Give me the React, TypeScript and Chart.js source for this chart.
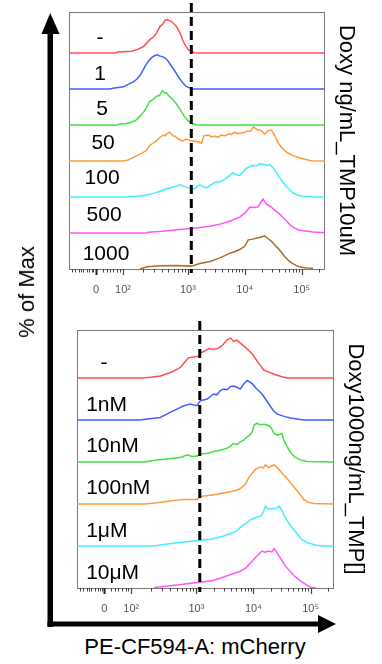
import React, { useEffect, useRef } from 'react';
import { Chart, registerables } from 'chart.js';

Chart.register(...registerables);

const FONT = '"Liberation Sans", Arial, Helvetica, sans-serif';

// ---- x axis: display units of the biexponential mCherry axis (10^3 -> 3, 10^4 -> 4, 10^5 -> 5) ----
const X_MIN = 0.91;
const X_MAX = 5.41;
const TICK_VALUES = [1.386, 1.86, 3, 4, 5];
const TICK_LABELS = ['0', '10²', '10³', '10⁴', '10⁵'];
const LINEAR_MINOR_TICKS = [0.96, 1.02, 1.08, 1.12, 1.16, 1.22, 1.27, 1.31, 1.34, 1.51, 1.57, 1.63, 1.69, 1.76, 1.8];
const GATE = 3.06;

const X_TITLE = 'PE-CF594-A: mCherry';
const Y_TITLE = '% of Max';

// ---- top panel: Doxy (ng/mL), TMP 10 uM.  Each series: [x (display units), % of max / 100] ----
const TOP_TITLE = 'Doxy ng/mL_TMP10uM';
const TOP_CATEGORIES = ['-', '1', '5', '50', '100', '500', '1000'];

const TOP_NONE = [[0.91,0],[1.74,0],[1.76,0.03],[2.01,0.05],[2.12,0.1],[2.22,0.18],[2.33,0.37],[2.4,0.45],[2.45,0.56],[2.51,0.74],[2.56,0.8],[2.6,0.91],[2.64,0.93],[2.67,0.9],[2.71,0.88],[2.76,0.8],[2.8,0.74],[2.86,0.56],[2.92,0.32],[2.97,0.17],[3.01,0.09],[3.06,0.04],[3.12,0.01],[3.2,0],[5.41,0]];
const TOP_1 = [[0.91,0],[1.63,0],[1.68,0.02],[1.87,0.06],[1.95,0.13],[2.04,0.2],[2.1,0.27],[2.16,0.38],[2.21,0.52],[2.25,0.64],[2.3,0.76],[2.36,0.87],[2.42,0.93],[2.46,0.95],[2.5,0.92],[2.55,0.9],[2.6,0.86],[2.64,0.8],[2.7,0.66],[2.77,0.5],[2.84,0.32],[2.91,0.17],[2.97,0.07],[3.06,0.01],[3.08,0],[5.41,0]];
const TOP_5 = [[0.91,0],[1.75,0],[1.8,0.02],[1.92,0.04],[2.03,0.09],[2.1,0.15],[2.16,0.25],[2.22,0.35],[2.27,0.48],[2.33,0.66],[2.38,0.7],[2.45,0.8],[2.5,0.82],[2.53,0.9],[2.56,0.95],[2.59,0.88],[2.62,0.9],[2.66,0.82],[2.74,0.7],[2.8,0.58],[2.86,0.44],[2.93,0.26],[3.0,0.12],[3.06,0.04],[3.15,0.01],[3.25,0],[5.41,0]];
const TOP_50 = [[0.91,0],[1.87,0],[1.95,0.03],[2.04,0.1],[2.16,0.19],[2.27,0.29],[2.33,0.43],[2.39,0.5],[2.45,0.56],[2.51,0.66],[2.57,0.72],[2.6,0.7],[2.63,0.76],[2.68,0.8],[2.74,0.7],[2.78,0.68],[2.83,0.61],[2.91,0.56],[2.98,0.61],[3.06,0.56],[3.15,0.54],[3.24,0.5],[3.28,0.7],[3.36,0.72],[3.42,0.67],[3.47,0.69],[3.53,0.66],[3.59,0.72],[3.65,0.7],[3.71,0.75],[3.77,0.74],[3.82,0.8],[3.88,0.76],[3.94,0.78],[4.0,0.8],[4.06,0.84],[4.1,0.82],[4.15,0.95],[4.22,0.87],[4.29,0.84],[4.35,0.75],[4.41,0.84],[4.47,0.86],[4.53,0.7],[4.58,0.52],[4.66,0.35],[4.74,0.24],[4.85,0.15],[5.0,0.07],[5.17,0.01],[5.41,0]];
const TOP_100 = [[0.91,0],[1.92,0],[2.1,0.02],[2.25,0.05],[2.4,0.1],[2.51,0.16],[2.61,0.22],[2.68,0.25],[2.74,0.28],[2.8,0.3],[2.86,0.34],[2.93,0.3],[3.0,0.26],[3.06,0.24],[3.12,0.23],[3.17,0.3],[3.21,0.34],[3.27,0.29],[3.33,0.25],[3.42,0.35],[3.5,0.43],[3.55,0.41],[3.6,0.45],[3.68,0.53],[3.72,0.58],[3.79,0.67],[3.85,0.62],[3.91,0.6],[3.97,0.7],[4.03,0.8],[4.09,0.84],[4.14,0.88],[4.2,0.86],[4.26,0.92],[4.31,0.9],[4.35,0.9],[4.4,0.87],[4.44,0.9],[4.5,0.8],[4.56,0.67],[4.65,0.45],[4.73,0.29],[4.84,0.12],[4.93,0.05],[5.02,0.02],[5.23,0],[5.41,0]];
const TOP_500 = [[0.91,0],[2.28,0],[2.3,0.02],[2.55,0.05],[2.8,0.09],[3.09,0.13],[3.25,0.16],[3.39,0.19],[3.55,0.24],[3.68,0.3],[3.8,0.37],[3.91,0.44],[4.0,0.55],[4.09,0.72],[4.16,0.71],[4.23,0.72],[4.28,0.85],[4.32,0.94],[4.38,0.8],[4.44,0.75],[4.5,0.67],[4.55,0.6],[4.61,0.53],[4.67,0.43],[4.73,0.34],[4.8,0.22],[4.85,0.16],[4.93,0.09],[5.02,0.06],[5.2,0.03],[5.41,0.01]];
const TOP_1000 = [[2.16,0],[2.28,0.06],[2.51,0.09],[2.8,0.1],[3.06,0.08],[3.21,0.15],[3.39,0.21],[3.56,0.31],[3.65,0.37],[3.74,0.44],[3.82,0.48],[3.91,0.54],[4.0,0.63],[4.06,0.81],[4.14,0.83],[4.21,0.86],[4.28,0.88],[4.35,0.92],[4.41,0.84],[4.47,0.77],[4.52,0.68],[4.58,0.58],[4.64,0.47],[4.7,0.35],[4.76,0.25],[4.82,0.17],[4.9,0.1],[4.96,0.06],[5.08,0.03],[5.2,0.02]];

// ---- bottom panel: Doxy 1000 ng/mL, TMP concentration ----
const BOTTOM_TITLE = 'Doxy1000ng/mL_TMP[]';
const BOTTOM_CATEGORIES = ['-', '1nM', '10nM', '100nM', '1μM', '10μM'];

const BOT_NONE = [[0.91,0],[2.05,0],[2.2,0.02],[2.37,0.05],[2.54,0.13],[2.65,0.2],[2.72,0.25],[2.8,0.38],[2.86,0.48],[2.95,0.5],[3.04,0.52],[3.07,0.6],[3.13,0.63],[3.22,0.7],[3.3,0.68],[3.39,0.71],[3.45,0.77],[3.54,0.91],[3.6,0.95],[3.65,0.87],[3.71,0.9],[3.77,0.83],[3.86,0.73],[3.92,0.65],[3.98,0.57],[4.06,0.41],[4.12,0.3],[4.18,0.19],[4.27,0.14],[4.36,0.09],[4.5,0.03],[4.59,0],[5.41,0]];
const BOT_1NM = [[0.91,0],[2.0,0],[2.11,0.02],[2.37,0.06],[2.54,0.18],[2.66,0.26],[2.78,0.34],[2.89,0.38],[3.01,0.34],[3.07,0.46],[3.19,0.5],[3.3,0.62],[3.36,0.6],[3.42,0.7],[3.48,0.74],[3.54,0.72],[3.6,0.8],[3.65,0.81],[3.71,0.78],[3.77,0.74],[3.83,0.86],[3.89,0.94],[3.94,0.9],[3.98,0.86],[4.06,0.74],[4.15,0.62],[4.21,0.5],[4.27,0.38],[4.35,0.22],[4.42,0.14],[4.55,0.08],[4.65,0.05],[4.82,0.01],[4.9,0],[5.41,0]];
const BOT_10NM = [[0.91,0],[2.08,0],[2.31,0.05],[2.6,0.09],[2.75,0.12],[2.84,0.17],[2.92,0.13],[3.01,0.14],[3.07,0.19],[3.18,0.2],[3.3,0.25],[3.42,0.28],[3.54,0.33],[3.6,0.38],[3.65,0.44],[3.71,0.42],[3.77,0.48],[3.83,0.52],[3.89,0.6],[3.95,0.66],[3.98,0.72],[4.01,0.88],[4.06,0.92],[4.12,0.89],[4.18,0.9],[4.24,0.88],[4.3,0.84],[4.36,0.68],[4.42,0.64],[4.5,0.68],[4.53,0.52],[4.62,0.29],[4.71,0.13],[4.82,0.05],[4.94,0.01],[5.41,0]];
const BOT_100NM = [[0.91,0],[2.1,0],[2.31,0.03],[2.54,0.07],[2.78,0.11],[3.01,0.11],[3.07,0.17],[3.13,0.19],[3.25,0.21],[3.36,0.23],[3.5,0.27],[3.65,0.31],[3.75,0.35],[3.83,0.43],[3.88,0.52],[3.92,0.63],[3.98,0.74],[4.04,0.83],[4.12,0.88],[4.17,0.86],[4.21,0.93],[4.27,0.86],[4.31,0.9],[4.36,0.93],[4.42,0.86],[4.5,0.74],[4.58,0.62],[4.65,0.5],[4.77,0.31],[4.88,0.11],[4.96,0.04],[5.06,0.01],[5.41,0]];
const BOT_1UM = [[0.91,0],[2.2,0],[2.31,0.01],[2.66,0.08],[2.95,0.12],[3.25,0.16],[3.48,0.24],[3.65,0.32],[3.72,0.38],[3.8,0.48],[3.88,0.55],[3.95,0.63],[4.04,0.68],[4.12,0.71],[4.17,0.8],[4.21,0.95],[4.27,0.87],[4.33,0.9],[4.39,0.88],[4.45,0.95],[4.5,0.85],[4.54,0.71],[4.65,0.48],[4.77,0.28],[4.85,0.15],[4.94,0.08],[5.1,0.02],[5.23,0],[5.41,0]];
const BOT_10UM = [[2.25,0],[2.31,0.02],[2.66,0.07],[3.01,0.13],[3.3,0.18],[3.54,0.29],[3.77,0.4],[3.87,0.48],[3.95,0.6],[4.06,0.76],[4.15,0.88],[4.2,0.85],[4.27,0.88],[4.32,0.86],[4.36,0.94],[4.41,0.85],[4.45,0.76],[4.56,0.52],[4.71,0.29],[4.82,0.17],[4.92,0.08],[5.0,0.02],[5.1,0]];

const COLORS = ['#ff5050', '#3f60ff', '#40e040', '#ff9a3d', '#3feeff', '#ff55ff', '#ad6c2e'];

// ---- layout (not data) ----
const TOP_LABEL_X = [1.456, 1.456, 1.491, 1.509, 1.491, 1.526, 1.561];
const TOP_LABEL_DY = [0.42, 0.42, 0.44, 0.5, 0.53, 0.5, 0.42];
const BOTTOM_LABEL_X = [1.32, 1.07, 1.07, 1.07, 1.07, 1.07];
const BOTTOM_LABEL_DY = [0.36, 0.36, 0.38, 0.38, 0.36, 0.36];

const MINOR_TICKS: number[] = [...LINEAR_MINOR_TICKS];
for (let k = 2; k <= 9; k++) {
  MINOR_TICKS.push(TICK_VALUES[1] + (3 - TICK_VALUES[1]) * Math.log10(k));
  MINOR_TICKS.push(3 + Math.log10(k));
  MINOR_TICKS.push(4 + Math.log10(k));
  if (5 + Math.log10(k) < X_MAX) MINOR_TICKS.push(5 + Math.log10(k));
}

type Spec = {
  series: number[][][];
  labels: string[];
  labelX: number[];
  labelDy: number[];
  labelAlign: CanvasTextAlign;
  yMax: number;
  title: string;
  titlePad: number;
  padTop: number;
  padLeft: number;
  xHeight: number;
  yWidth: number;
};

const TOP_SPEC: Spec = {
  series: [TOP_NONE, TOP_1, TOP_5, TOP_50, TOP_100, TOP_500, TOP_1000],
  labels: TOP_CATEGORIES,
  labelX: TOP_LABEL_X,
  labelDy: TOP_LABEL_DY,
  labelAlign: 'center',
  yMax: 257 / 36,
  title: TOP_TITLE,
  titlePad: 23,
  padTop: 12,
  padLeft: 69,
  xHeight: 31,
  yWidth: 57,
};

const BOTTOM_SPEC: Spec = {
  series: [BOT_NONE, BOT_1NM, BOT_10NM, BOT_100NM, BOT_1UM, BOT_10UM],
  labels: BOTTOM_CATEGORIES,
  labelX: BOTTOM_LABEL_X,
  labelDy: BOTTOM_LABEL_DY,
  labelAlign: 'left',
  yMax: 258 / 42,
  title: BOTTOM_TITLE,
  titlePad: 14,
  padTop: 20,
  padLeft: 77,
  xHeight: 32,
  yWidth: 48,
};

function panelPlugin(spec: Spec) {
  const n = spec.series.length;
  return {
    id: 'panelDecor',
    beforeDatasetsDraw(chart: any) {
      const { ctx, chartArea: a } = chart;
      ctx.save();
      ctx.strokeStyle = '#7a7a7a';
      ctx.lineWidth = 1;
      ctx.strokeRect(a.left + 0.5, a.top + 0.5, a.right - a.left - 1, a.bottom - a.top);
      ctx.restore();
    },
    afterDatasetsDraw(chart: any) {
      const { ctx, chartArea: a, scales } = chart;
      const xs = scales.x;
      const ys = scales.y;
      ctx.save();
      // tick marks
      ctx.strokeStyle = '#444';
      ctx.lineWidth = 1;
      ctx.beginPath();
      for (const v of MINOR_TICKS) {
        const x = Math.round(xs.getPixelForValue(v)) + 0.5;
        ctx.moveTo(x, a.bottom);
        ctx.lineTo(x, a.bottom + 3.5);
      }
      ctx.stroke();
      TICK_VALUES.forEach((v, i) => {
        const x = Math.round(xs.getPixelForValue(v)) + 0.5;
        ctx.lineWidth = i === 0 ? 2 : 1.2;
        ctx.strokeStyle = i === 0 ? '#222' : '#444';
        ctx.beginPath();
        ctx.moveTo(x, a.bottom);
        ctx.lineTo(x, a.bottom + 6);
        ctx.stroke();
      });
      // gate line
      const gx = xs.getPixelForValue(GATE);
      ctx.strokeStyle = '#000';
      ctx.lineWidth = 3;
      ctx.setLineDash([9, 5]);
      ctx.beginPath();
      ctx.moveTo(gx, a.top - 9);
      ctx.lineTo(gx, a.bottom + 4);
      ctx.stroke();
      ctx.setLineDash([]);
      // category labels
      ctx.fillStyle = '#000';
      ctx.font = `21px ${FONT}`;
      ctx.textAlign = spec.labelAlign;
      ctx.textBaseline = 'middle';
      spec.labels.forEach((lab, i) => {
        const offset = n - 1 - i;
        ctx.fillText(lab, xs.getPixelForValue(spec.labelX[i]), ys.getPixelForValue(offset + spec.labelDy[i]));
      });
      ctx.restore();
    },
  };
}

function makeChart(canvas: HTMLCanvasElement, spec: Spec) {
  const n = spec.series.length;
  return new Chart(canvas, {
    type: 'line',
    data: {
      datasets: spec.series.map((s, i) => ({
        data: s.map(([x, v]) => ({ x, y: n - 1 - i + v })),
        borderColor: COLORS[i],
        borderWidth: 1.5,
        pointRadius: 0,
        fill: false,
        tension: 0,
      })),
    },
    options: {
      animation: false,
      responsive: false,
      events: [],
      layout: { padding: { top: spec.padTop, left: spec.padLeft, right: 0, bottom: 0 } },
      plugins: { legend: { display: false }, tooltip: { enabled: false } },
      scales: {
        x: {
          type: 'linear',
          position: 'bottom',
          min: X_MIN,
          max: X_MAX,
          afterBuildTicks: (axis: any) => {
            axis.ticks = TICK_VALUES.map((value) => ({ value }));
          },
          afterFit: (axis: any) => {
            axis.height = spec.xHeight;
          },
          grid: { display: false, drawTicks: false },
          border: { display: false },
          ticks: {
            autoSkip: false,
            maxRotation: 0,
            padding: 14,
            color: '#555',
            font: { family: FONT, size: 11 },
            callback: (_v: any, i: number) => TICK_LABELS[i],
          },
        },
        y: {
          type: 'linear',
          position: 'right',
          min: 0,
          max: spec.yMax,
          afterFit: (axis: any) => {
            axis.width = spec.yWidth;
          },
          grid: { display: false, drawTicks: false },
          border: { display: false },
          ticks: { display: false },
          title: {
            display: true,
            text: spec.title,
            color: '#000',
            font: { family: FONT, size: 22 },
            padding: { top: spec.titlePad, bottom: 0 },
          },
        },
      },
    } as any,
    plugins: [panelPlugin(spec)],
  });
}

function Panel({ spec, top, height }: { spec: Spec; top: number; height: number }) {
  const ref = useRef<HTMLCanvasElement>(null);
  useEffect(() => {
    const chart = makeChart(ref.current as HTMLCanvasElement, spec);
    return () => chart.destroy();
  }, [spec]);
  return (
    <canvas
      ref={ref}
      width={382}
      height={height}
      style={{ position: 'absolute', left: 0, top, width: 382, height }}
    />
  );
}

export default function App() {
  return (
    <div style={{ position: 'absolute', left: 0, top: 0, width: 382, height: 664, background: '#fff', overflow: 'hidden' }}>
      <svg width={382} height={664} style={{ position: 'absolute', left: 0, top: 0 }}>
        <rect x={47.5} y={30} width={5.5} height={597} fill="#000" />
        <polygon points="41.5,34 59.5,34 50.25,13" fill="#000" />
        <rect x={47.5} y={621.5} width={272} height={5} fill="#000" />
        <polygon points="318,615 318,633 336,624" fill="#000" />
      </svg>
      <Panel spec={TOP_SPEC} top={0} height={300} />
      <Panel spec={BOTTOM_SPEC} top={310} height={310} />
      <div
        style={{
          position: 'absolute',
          left: 27,
          top: 292,
          transform: 'translate(-50%, -50%) rotate(-90deg)',
          font: `22px ${FONT}`,
          lineHeight: 1,
          whiteSpace: 'nowrap',
          color: '#000',
        }}
      >
        {Y_TITLE}
      </div>
      <div
        style={{
          position: 'absolute',
          left: 195,
          top: 647,
          transform: 'translate(-50%, -50%)',
          font: `22px ${FONT}`,
          lineHeight: 1,
          whiteSpace: 'nowrap',
          color: '#000',
        }}
      >
        {X_TITLE}
      </div>
    </div>
  );
}
